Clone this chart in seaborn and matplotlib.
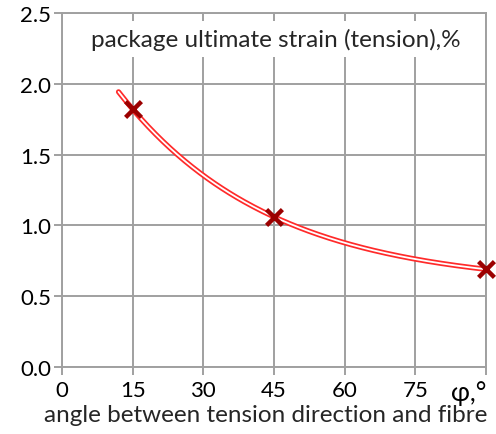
import numpy as np
import pandas as pd
import matplotlib
matplotlib.use('Agg')
import matplotlib.pyplot as plt
import seaborn as sns

# measured points
angle = [15, 45, 90]
strain = [1.82, 1.06, 0.69]
x_ticks = [0, 15, 30, 45, 60, 75, 90]
x_tick_labels = ['0', '15', '30', '45', '60', '75', 'φ,°']
y_ticks = [0.0, 0.5, 1.0, 1.5, 2.0, 2.5]

sns.set_style('white')
plt.rcParams['font.family'] = ['Lato', 'DejaVu Sans']

data = pd.DataFrame({'angle': angle, 'strain': strain})

# trend line: y = c + a*exp(-k*x), k picked by least squares over a grid
xs = data['angle'].to_numpy(float)
ys = data['strain'].to_numpy(float)
best = None
for k in np.linspace(0.005, 0.1, 2000):
    A = np.column_stack([np.ones_like(xs), np.exp(-k * xs)])
    sol, res, *_ = np.linalg.lstsq(A, ys, rcond=None)
    err = np.sum((A @ sol - ys) ** 2)
    if best is None or err < best[0]:
        best = (err, k, sol)
_, k, (c, a) = best
trend_x = np.linspace(12, 90, 200)
trend = pd.DataFrame({'angle': trend_x, 'strain': c + a * np.exp(-k * trend_x)})

fig, ax = plt.subplots(figsize=(4.96, 4.35), dpi=100)
fig.subplots_adjust(left=0.125, right=0.98, bottom=0.154, top=0.968)

# double red line: thick red with thin white core
sns.lineplot(x='angle', y='strain', data=trend, color='#ff2a2a', lw=3.8, ax=ax, zorder=3)
sns.lineplot(x='angle', y='strain', data=trend, color='white', lw=1.3, ax=ax, zorder=4)
sns.scatterplot(x='angle', y='strain', data=data, marker='x', s=130, color='#9b0000',
                linewidth=3.2, ax=ax, zorder=5, clip_on=False)

ax.set_xlim(0, 90)
ax.set_ylim(0, 2.5)
ax.set_xticks(x_ticks)
ax.set_xticklabels(x_tick_labels)
ax.set_yticks(y_ticks)
ax.set_yticklabels([f'{v:.1f}' for v in y_ticks])
ax.grid(True, color='#a0a0a0', lw=1.4)
ax.set_axisbelow(True)
for s in ax.spines.values():
    s.set_color('#a0a0a0')
    s.set_linewidth(1.4)
ax.tick_params(axis='both', direction='out', length=6, width=1.4, color='#a0a0a0',
               labelsize=16, labelcolor='black', pad=2)
ax.tick_params(axis='x', bottom=True, pad=3)
ax.tick_params(axis='y', left=True)
last = ax.get_xticklabels()[-1]
last.set_horizontalalignment('right')
last.set_fontsize(18.5)

ax.set_xlabel('angle between tension direction and fibre', fontsize=17.5, labelpad=1)
ax.xaxis.set_label_coords(0.48, -0.105)
ax.xaxis.label.set_verticalalignment('top')
ax.set_ylabel('')
ax.text(0.505, 0.927, 'package ultimate strain (tension),%', transform=ax.transAxes,
        ha='center', va='center', fontsize=17.5,
        bbox=dict(facecolor='white', edgecolor='none', pad=5), zorder=6)

plt.savefig('out.png', dpi=100)
